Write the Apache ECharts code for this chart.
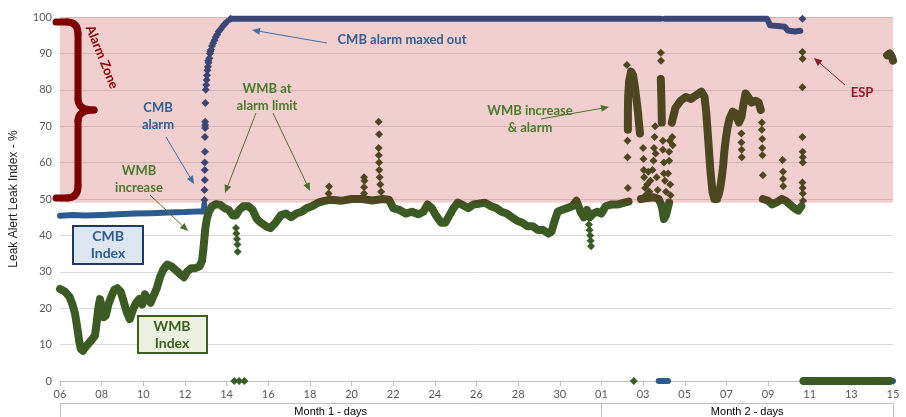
<!DOCTYPE html>
<html>
<head>
<meta charset="utf-8">
<script src="https://cdn.jsdelivr.net/npm/echarts@6/dist/echarts.min.js"></script>
<style>
  html, body { margin: 0; padding: 0; background: #fff; }
  #chart { width: 906px; height: 417px; }
</style>
</head>
<body>
<div id="chart"></div>
<script>
// x = days since the 6th of month 1
const xTickLabels = ['06','08','10','12','14','16','18','20','22','24','26','28','30',
                     '01','03','05','07','09','11','13','15']
const monthLabels = ['Month 1 - days', 'Month 2 - days']
const monthEdges = [0, 26, 40]
const alarmLow = 49

// CMB index: continuous runs
const cmbRuns = [
  [[0,45.4],[0.6,45.6],[1.2,45.5],[2,45.6],[2.8,45.8],[3.6,46],[4.4,46.1],[5.2,46.3],[6,46.4],[6.7,46.6],[6.9,46.6],[6.93,48.5]],
  [[8.2,99.5],[28.85,99.5]],
  [[29.05,99.5],[33.95,99.5],[34.1,97.7],[34.45,97.5],[34.8,97.3],[34.95,96.3],[35.3,96],[35.55,96.2]],
  [[28.75,0],[29.2,0]],
  [[35.7,0],[40,0]]
]
// CMB index: single readings (alarm rise, ESP)
const cmbDots = [
  [6.94,49.7],[6.94,52.5],[6.95,55.2],[6.95,58],[6.95,60],[6.96,63],[6.96,67],[6.97,69.5],[6.97,70.3],
  [6.97,71.2],[6.98,76.4],[7,80],[7.02,81.3],[7.04,82.7],[7.06,84],[7.08,85.4],[7.1,86.3],[7.12,88],
  [7.13,87.4],[7.17,88.7],[7.2,90],[7.22,90.5],[7.25,91],[7.3,92],[7.35,92.8],[7.42,93.6],[7.48,94.5],
  [7.55,95.2],[7.62,96],[7.7,96.6],[7.8,97.3],[7.9,98],[8,98.6],[8.2,99.5],[35.65,99.5]
]

// WMB index: continuous runs
const wmbRuns = [
  [[0,25.3],[0.25,24.5],[0.45,23.2],[0.6,21],[0.72,18.5],[0.82,15],[0.92,11],[1,8.8],[1.1,8.3],[1.25,9.5],
   [1.4,10.5],[1.55,11.5],[1.68,12.5],[1.76,16],[1.84,20],[1.92,22.5],[2,20.5],[2.1,17.5],[2.2,18],[2.32,21],
   [2.45,23],[2.6,25],[2.75,25.5],[2.92,24.5],[3.05,22],[3.2,19],[3.35,17],[3.5,19.5],[3.65,21.5],[3.8,22.5],
   [3.95,21],[4.08,23.8],[4.2,22.5],[4.35,21.5],[4.5,23.5],[4.65,25.5],[4.8,28.5],[4.95,30.5],[5.15,32],
   [5.35,31.5],[5.55,30.5],[5.75,29.5],[5.95,28.5],[6.1,30],[6.3,31],[6.5,31],[6.7,31.5],[6.82,33],[6.88,36],
   [6.93,39],[6.98,42],[7.05,44.5],[7.15,46.5],[7.3,48],[7.5,48.6],[7.7,48.4],[7.9,47.5],[8.1,47],[8.3,45.5],
   [8.45,45.5],[8.6,47],[8.8,48],[9.05,48],[9.25,47],[9.45,44.5],[9.65,43.5],[9.9,42.5],[10.1,42],[10.35,43.5],
   [10.6,45.5],[10.85,46],[11.1,45],[11.35,46],[11.6,46.5],[11.85,47.5],[12.1,48],[12.4,49],[12.7,49.5],
   [13,49.8],[13.5,49.5],[14,50],[14.5,50],[15,49.6],[15.5,50],[15.8,49.8],[16,47.5],[16.3,47],[16.6,46],
   [16.9,46.5],[17.2,45.8],[17.45,46.5],[17.65,48.5],[17.85,47.5],[18.05,45.5],[18.3,43.5],[18.5,43.5],
   [18.7,45.5],[18.9,47.5],[19.1,49],[19.35,48.3],[19.6,47.5],[19.85,48.5],[20.1,48.7],[20.4,49],[20.7,48],
   [20.95,47.5],[21.2,46.5],[21.45,46],[21.7,45],[21.95,44],[22.2,43.5],[22.45,42.5],[22.7,42.5],[22.95,41.5],
   [23.2,41.5],[23.45,40.5],[23.6,41],[23.75,44],[23.9,46.5],[24.1,47],[24.35,47.5],[24.6,48],[24.8,49.5],
   [25,46.5],[25.15,45],[25.3,47],[25.45,45],[25.6,46],[25.8,46.5],[26,46],[26.2,48],[26.5,48.5],[26.8,48.5],
   [27.1,49],[27.3,49.3]],
  [[27.27,69],[27.27,73.5],[27.28,78],[27.33,82.5],[27.42,85],[27.52,84],[27.6,81],[27.68,77.5],[27.75,74],[27.8,71],[27.85,68]],
  [[27.9,50],[28.2,50.3],[28.5,50.5],[28.75,50],[28.9,48],[29,44.5],[29.1,45.5],[29.25,49]],
  [[28.85,83],[28.88,77],[28.9,71]],
  [[29.38,71],[29.55,75],[29.8,77],[30.05,78],[30.3,77.5],[30.55,78.5],[30.8,79.5],[30.95,78],[31.03,74],
   [31.08,70],[31.13,66],[31.18,62],[31.23,58],[31.28,55],[31.33,52],[31.42,50],[31.55,50]],
  [[31.62,51],[31.7,53],[31.78,56],[31.85,59.5],[31.9,63],[31.97,66.5],[32.05,69.5],[32.15,72],[32.3,74],
   [32.45,73.5],[32.6,71],[32.72,72.5],[32.82,76],[32.92,79],[33.05,78],[33.2,76.5],[33.4,77],[33.55,76.5],[33.65,74.5]],
  [[33.75,50],[34,49.5],[34.2,48.5],[34.45,49.2],[34.65,50],[34.85,49.5],[35.05,48.5],[35.25,47.5],[35.45,46.8],[35.6,48]],
  [[35.7,0],[39.85,0]],
  [[39.72,89.5],[39.85,90],[39.95,89],[40,88]]
]
// WMB index: single readings
const wmbDots = [
  [8.37,0],[8.6,0],[8.85,0],[27.55,0],
  [8.45,42],[8.47,40.5],[8.5,39],[8.52,37.5],[8.53,35.5],
  [25.4,43],[25.43,41.5],[25.46,40],[25.48,38.5],[25.5,37],
  [12.9,51.5],[12.92,53.4],[14.6,51.5],[14.6,53.2],[14.62,55],[14.6,56],
  [15.3,71.2],[15.32,67.8],[15.3,64],[15.31,62],[15.32,60],[15.33,58],[15.35,56],[15.38,54],[15.42,52],
  [27.22,86.8],[27.25,66],[27.25,61.5],[27.27,53],
  [28,64],[28.02,61],[28.03,58],[28.05,56],[28.1,53],[28.12,51],[28.2,54],[28.25,57.5],[28.3,52],[28.35,55],
  [28.45,58],[28.5,60.5],[28.52,64],[28.55,67],[28.58,70],[28.6,62.5],[28.65,56],[28.7,52.5],
  [28.85,90.2],[28.86,88],
  [28.95,66],[28.95,63.5],[29,60],[29,57],[29.05,55],[29.1,52],[29.2,57],[29.25,60.5],[29.25,63],[29.28,66],
  [29.3,54],[29.32,51],[29.4,67],[29.42,64.8],
  [32.72,68],[32.72,65.5],[32.73,63.5],[32.74,61.5],
  [33.7,71],[33.7,69],[33.72,66.5],[33.72,64],[33.73,62],[33.75,56.5],
  [34.7,60.7],[34.72,57.5],[34.72,55.5],[34.73,53.5],
  [35.65,90.4],[35.66,88.5],[35.65,80.7],[35.65,67],[35.66,63],[35.67,61.5],[35.67,60],[35.65,54.5],
  [35.66,53],[35.67,51.5],[35.68,49.5]
]

const green = '#3c5a23', olive = '#4d4620'
const blue = '#2c5c8f', navy = '#3b4675'

let myChart = echarts.init(document.getElementById('chart'))

function runSeries(d, w) {
  return {
    type: 'line', data: d, symbol: 'none', z: 3, silent: true,
    lineStyle: { width: w, cap: 'round', join: 'round' }
  }
}
function dotSeries(d) {
  return { type: 'scatter', data: d, symbol: 'diamond', symbolSize: 8, z: 3, silent: true,
           itemStyle: { opacity: 1 } }
}

let series = [{
  type: 'scatter', data: [], z: 1, silent: true,
  markArea: {
    silent: true,
    itemStyle: { color: 'rgba(212,95,95,0.3)' },
    data: [[{ yAxis: alarmLow }, { yAxis: 100 }]]
  }
}]
let cmbIdx = [], wmbIdx = []
cmbRuns.forEach(r => { cmbIdx.push(series.length); series.push(runSeries(r, 6)) })
cmbIdx.push(series.length); series.push(dotSeries(cmbDots))
wmbRuns.forEach(r => { wmbIdx.push(series.length); series.push(runSeries(r, 8)) })
wmbIdx.push(series.length); series.push(dotSeries(wmbDots))

// annotations
function arrow(x1, y1, x2, y2, color) {
  const a = Math.atan2(y2 - y1, x2 - x1), L = 8, W = 3.5
  const bx = x2 - L * Math.cos(a), by = y2 - L * Math.sin(a)
  const nx = -Math.sin(a), ny = Math.cos(a)
  return [
    { type: 'line', shape: { x1: x1, y1: y1, x2: bx, y2: by }, style: { stroke: color, lineWidth: 1 } },
    { type: 'polygon', shape: { points: [[x2, y2], [bx + W * nx, by + W * ny], [bx - W * nx, by - W * ny]] }, style: { fill: color } }
  ]
}
function label(x, y, text, color, size) {
  return {
    type: 'text', x: x, y: y,
    style: { text: text, fill: color, fontSize: size || 13, fontWeight: 'bold', fontFamily: 'Lato',
             align: 'center', verticalAlign: 'middle', lineHeight: 17 }
  }
}
// the curly brace of the alarm zone
function braceLine(x1, y1, x2, y2) {
  return { type: 'line', shape: { x1, y1, x2, y2 }, style: { stroke: '#7f0000', lineWidth: 7, lineCap: 'round' } }
}
function braceCurve(x1, y1, cx, cy, x2, y2) {
  return { type: 'bezierCurve', shape: { x1, y1, x2, y2, cpx1: cx, cpy1: cy },
           style: { stroke: '#7f0000', lineWidth: 7, lineCap: 'round', fill: null } }
}
const txtBlue = '#2f6097', txtGreen = '#4a7a2c', arrBlue = '#3a6ea5', arrGreen = '#4f6f2f'
let graphic = [
  braceLine(56, 22, 67, 22), braceCurve(67, 22, 78, 22, 78, 34), braceLine(78, 34, 78, 99),
  braceCurve(78, 99, 78, 110, 94, 110), braceCurve(94, 110, 78, 110, 78, 121), braceLine(78, 121, 78, 186),
  braceCurve(78, 186, 78, 198, 67, 198), braceLine(67, 198, 56, 198),
  { type: 'text', x: 102, y: 57, rotation: -68 * Math.PI / 180,
    style: { text: 'Alarm Zone', fill: '#8b0000', fontSize: 13, fontWeight: 'bold', fontFamily: 'Lato',
             align: 'center', verticalAlign: 'middle' } },
  label(158, 116, 'CMB\nalarm', txtBlue),
  label(139, 179, 'WMB\nincrease', txtGreen),
  label(267, 97, 'WMB at\nalarm limit', txtGreen),
  label(402, 40, 'CMB alarm maxed out', txtBlue),
  label(530, 119, 'WMB increase\n& alarm', txtGreen),
  label(862, 93, 'ESP', '#a0142a'),
  ...arrow(166, 137, 194, 184, arrBlue),
  ...arrow(150, 195, 188, 231, arrGreen),
  ...arrow(256, 113, 225, 193, arrGreen),
  ...arrow(273, 113, 310, 191, arrGreen),
  ...arrow(327, 43, 252, 30, arrBlue),
  ...arrow(541, 119, 609, 107, arrGreen),
  ...arrow(845, 85, 814, 58, '#8b1a2a'),
  { type: 'rect', shape: { x: 73, y: 226, width: 70, height: 38 }, style: { fill: '#dce6f2', stroke: '#1f3864', lineWidth: 2 } },
  label(108, 245, 'CMB\nIndex', '#2f5b8f', 14),
  { type: 'rect', shape: { x: 138, y: 316, width: 69, height: 37 }, style: { fill: '#ebf1de', stroke: '#3d5c22', lineWidth: 2 } },
  label(172, 335, 'WMB\nIndex', '#3d5c22', 14)
]
// keep the annotations above the grid lines and the data
graphic.forEach((g, i) => { g.z = 100 + i })

let option = {
  animation: false,
  grid: { left: 57, right: 13, top: 17, bottom: 36 },
  xAxis: [
    {
      type: 'value', min: 0, max: 40, interval: 2,
      axisLine: { lineStyle: { color: '#bfbfbf' } },
      axisTick: { length: 5, lineStyle: { color: '#bfbfbf' } },
      axisLabel: { color: '#595959', fontSize: 11, margin: 8, fontFamily: 'Lato', formatter: v => xTickLabels[v / 2] },
      splitLine: { show: false }
    },
    {
      type: 'value', min: 0, max: 40, position: 'bottom', offset: 22,
      axisLine: { onZero: false, lineStyle: { color: '#bfbfbf' } },
      axisTick: { customValues: monthEdges, length: 14, lineStyle: { color: '#bfbfbf' } },
      axisLabel: {
        customValues: [(monthEdges[0] + monthEdges[1]) / 2, (monthEdges[1] + monthEdges[2]) / 2],
        formatter: v => v < monthEdges[1] ? monthLabels[0] : monthLabels[1],
        color: '#000', fontSize: 11, margin: 3, fontFamily: 'Liberation Sans'
      },
      splitLine: { show: false }
    }
  ],
  yAxis: {
    type: 'value', min: 0, max: 100, interval: 10,
    name: 'Leak Alert Leak Index - %', nameLocation: 'middle', nameGap: 40,
    nameTextStyle: { color: '#222', fontSize: 12, fontFamily: 'Liberation Sans' },
    axisLine: { show: false }, axisTick: { show: false },
    axisLabel: { color: '#595959', fontSize: 11, fontFamily: 'Lato' },
    splitLine: { lineStyle: { color: '#d9d9d9' } }
  },
  visualMap: [
    { type: 'piecewise', show: false, dimension: 1, seriesIndex: cmbIdx,
      pieces: [{ min: -10, max: alarmLow, color: blue }, { min: alarmLow, max: 110, color: navy }] },
    { type: 'piecewise', show: false, dimension: 1, seriesIndex: wmbIdx,
      pieces: [{ min: -10, max: alarmLow, color: green }, { min: alarmLow, max: 110, color: olive }] }
  ],
  series: series,
  graphic: graphic
}
myChart.setOption(option)
</script>
</body>
</html>
